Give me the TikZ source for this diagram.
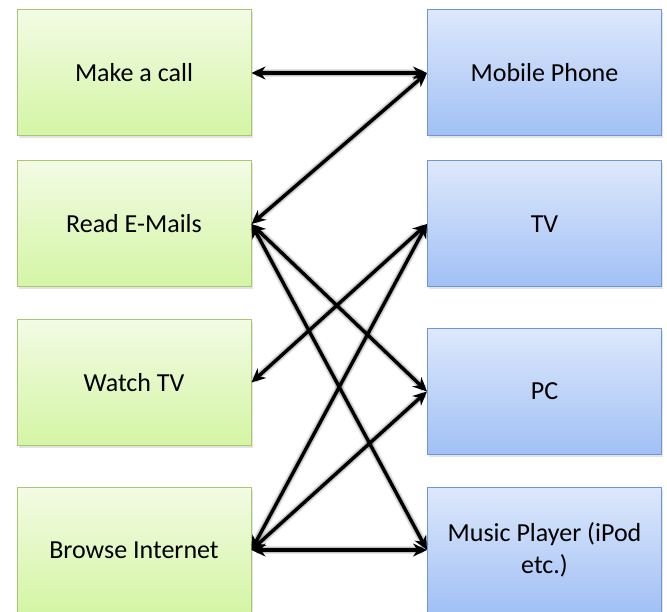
\documentclass[tikz,border=0pt]{standalone}
\usepackage{fontspec}
\setmainfont{Carlito}
\usetikzlibrary{arrows.meta,shadows}
\definecolor{greentop}{HTML}{F2FBE4}
\definecolor{greenbot}{HTML}{D4F5A4}
\definecolor{greenline}{HTML}{A9C670}
\definecolor{bluetop}{HTML}{DDE8FB}
\definecolor{bluebot}{HTML}{A1C0F5}
\definecolor{blueline}{HTML}{6E96D4}
\begin{document}
\begin{tikzpicture}[x=1pt,y=-1pt,
  box/.style={minimum width=234pt,minimum height=126pt,inner sep=0pt,
    align=center,font=\fontsize{26}{32}\selectfont,line width=1pt,
    drop shadow={opacity=0.22,shadow xshift=1.5pt,shadow yshift=-2.5pt}},
  act/.style={box,draw=greenline,top color=greentop,bottom color=greenbot},
  dev/.style={box,draw=blueline,top color=bluetop,bottom color=bluebot},
  link/.style={{Stealth[length=14pt,width=13pt]}-{Stealth[length=14pt,width=13pt]},
    line width=3.4pt,black,
    preaction={draw=black,arrows=-,line width=8pt,opacity=0.10,shorten >=4pt,shorten <=4pt},
    preaction={draw=black,arrows=-,line width=5.5pt,opacity=0.15,shorten >=4pt,shorten <=4pt}}]
\clip (0,0) rectangle (667,612);
\fill[white] (0,0) rectangle (667,612);

% activities
\node[act] (call)   at (134,73)    {Make a call};
\node[act] (mail)   at (134,224)   {Read E-Mails};
\node[act] (watch)  at (134,382.5) {Watch TV};
\node[act] (browse) at (134,550)   {Browse Internet};

% devices
\node[dev] (phone)  at (544.5,73)    {Mobile Phone};
\node[dev] (tv)     at (544.5,224)   {TV};
\node[dev] (pc)     at (544.5,391.5) {PC};
\node[dev] (music)  at (544.5,550)   {Music Player (iPod\\etc.)};

% which device supports which activity
\draw[link] (call.east)   -- (phone.west);
\draw[link] (mail.east)   -- (phone.west);
\draw[link] (mail.east)   -- (pc.west);
\draw[link] (mail.east)   -- (music.west);
\draw[link] (watch.east)  -- (tv.west);
\draw[link] (browse.east) -- (tv.west);
\draw[link] (browse.east) -- (pc.west);
\draw[link] (browse.east) -- (music.west);
\end{tikzpicture}
\end{document}
